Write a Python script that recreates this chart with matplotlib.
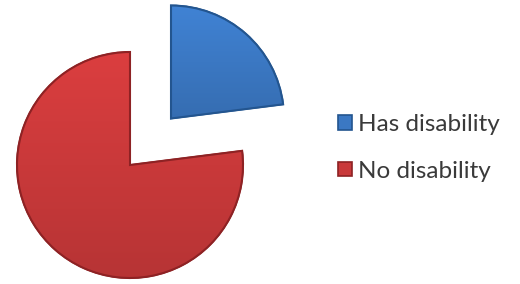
import matplotlib
matplotlib.use("Agg")
from matplotlib import pyplot as plt
import numpy as np

labels = ["Has disability", "No disability"]
shares = [23, 77]
colors = ["#3b78c3", "#c9393a"]
edges = ["#23558f", "#8e2224"]

fig = plt.figure(figsize=(5.2, 2.84), dpi=100)
ax = fig.add_axes([0, 0, 1, 1])

# explode is in data units here (axes in pixel units)
wedges, _ = ax.pie(shares, colors=colors, startangle=90, counterclock=False,
                   explode=[62, 0], center=(130, 119), radius=113,
                   wedgeprops=dict(linewidth=1.2), frame=True)
ax.set_xlim(0, 520)
ax.set_ylim(0, 284)
ax.set_aspect("equal")
ax.axis("off")

# soft shading to mimic the bevelled office look
renderer = fig.canvas.get_renderer()
inv = ax.transData.inverted()
for w, c, e in zip(wedges, colors, edges):
    w.set_edgecolor(e)
    base = np.array(matplotlib.colors.to_rgb(c))
    yy = np.linspace(0, 1, 200)[:, None] * np.ones((1, 200))
    shade = 1.0 + 0.18 * (yy - 0.5)
    img = np.clip(base[None, None, :] * shade[:, :, None], 0, 1)
    bb = w.get_window_extent(renderer)
    (ax0, ay0), (ax1, ay1) = inv.transform([(bb.x0, bb.y0), (bb.x1, bb.y1)])
    im = ax.imshow(img, extent=(ax0, ax1, ay0, ay1), origin="lower",
                   zorder=w.get_zorder() + 0.1)
    im.set_clip_path(w)
    ax.add_patch(matplotlib.patches.PathPatch(w.get_path(), transform=w.get_transform(),
                                              facecolor="none", edgecolor=e, linewidth=1.5,
                                              zorder=w.get_zorder() + 0.2))

ax.set_xlim(0, 520)
ax.set_ylim(0, 284)

leg = ax.legend(wedges, labels, loc="upper left", bbox_to_anchor=(326 / 520, 1 - 102 / 284),
                frameon=False, prop={"family": "Lato", "size": 17.5},
                handlelength=0.55, handleheight=0.55, handletextpad=0.25,
                labelspacing=1.05, borderpad=0)
for t in leg.get_texts():
    t.set_color("#3a3a3a")

fig.savefig("out.png", dpi=100, facecolor="white")
